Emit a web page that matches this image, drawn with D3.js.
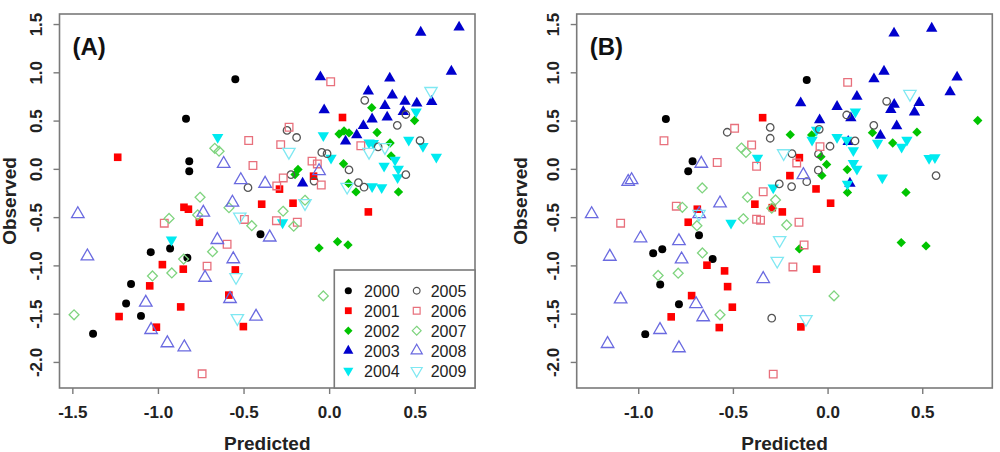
<!DOCTYPE html>
<html><head><meta charset="utf-8">
<script src="https://cdn.jsdelivr.net/npm/d3@7"></script>
<style>body{margin:0;background:#fff}svg{display:block}text{font-family:"Liberation Sans",Arial,sans-serif}</style>
</head><body><svg id="chart" width="1000" height="452"></svg>
<script>
const years = ["2000","2001","2002","2003","2004","2005","2006","2007","2008","2009"];
const xTicksA = [-1.5,-1.0,-0.5,0.0,0.5];
const xTicksB = [-1.0,-0.5,0.0,0.5];
const yTicks = [-2.0,-1.5,-1.0,-0.5,0.0,0.5,1.0,1.5];

// Panel A: [predicted, observed]
const a2000 = [[-0.548,0.928],[-0.836,0.520],[-0.817,0.079],[-0.817,-0.025],[-1.042,-0.863],[-0.929,-0.826],[-0.828,-0.922],[-1.157,-1.192],[-1.186,-1.395],[-1.099,-1.523],[-1.379,-1.709],[-0.401,-0.677]];
const a2001 = [[-1.235,0.120],[0.078,0.532],[0.229,-0.446],[-0.290,-0.210],[-0.091,-0.076],[-0.394,-0.366],[-0.211,-0.356],[-0.848,-0.398],[-0.822,-0.418],[-0.758,-0.553],[-0.974,-0.992],[-0.852,-1.039],[-0.548,-1.047],[-1.048,-1.212],[-0.586,-1.308],[-1.227,-1.530],[-0.867,-1.430],[-1.009,-1.640],[-0.501,-1.634]];
const a2002 = [[0.249,0.634],[0.499,0.501],[0.058,0.361],[0.087,0.392],[0.116,0.372],[0.280,0.377],[0.356,0.268],[0.362,0.134],[0.084,0.053],[0.113,-0.151],[0.157,-0.239],[0.405,-0.239],[-0.059,-0.819],[0.049,-0.754],[0.110,-0.788],[-0.182,-0.006],[-0.199,-0.058]];
const a2003 = [[0.759,1.466],[0.535,1.414],[0.714,1.010],[-0.051,0.951],[0.354,0.938],[0.229,0.804],[0.369,0.762],[0.443,0.698],[0.512,0.679],[0.599,0.696],[0.433,0.592],[0.326,0.654],[0.339,0.535],[0.251,0.515],[0.200,0.446],[0.161,0.351],[0.096,0.286],[-0.029,0.610],[-0.155,-0.149]];
const a2004 = [[-0.034,0.346],[0.011,0.113],[0.233,0.271],[0.258,0.265],[0.321,0.030],[0.385,0.092],[0.404,-0.001],[0.400,-0.089],[0.465,0.299],[0.508,0.592],[0.548,0.234],[0.626,0.123],[0.251,-0.182],[0.307,-0.193],[-0.651,0.327],[-0.921,-0.736],[-0.272,-0.557]];
const a2005 = [[0.208,0.710],[0.398,0.451],[0.448,0.563],[0.286,0.227],[0.531,0.292],[-0.043,0.170],[-0.012,0.157],[0.116,-0.011],[0.171,-0.143],[0.204,-0.190],[0.448,-0.060],[-0.246,0.398],[-0.190,0.325],[-0.474,-0.195],[-0.223,-0.060],[-0.088,-0.127]];
const a2006 = [[0.009,0.902],[-0.234,0.431],[-0.470,0.294],[-0.283,0.251],[0.185,0.239],[-0.445,0.035],[-0.100,0.080],[-0.069,0.051],[-0.268,-0.094],[-0.046,-0.167],[-0.306,-0.177],[-0.308,-0.537],[-0.186,-0.553],[-0.495,-0.524],[-0.963,-0.563],[-0.596,-0.781],[-0.713,-1.008],[-0.742,-2.123]];
const a2007 = [[-0.668,0.213],[-0.643,0.183],[-0.754,-0.294],[-0.585,-0.402],[-0.768,-0.477],[-0.935,-0.513],[-0.452,-0.589],[-0.269,-0.439],[-0.207,-0.594],[-0.141,-0.325],[-0.681,-0.858],[-1.032,-1.109],[-0.919,-1.078],[-0.850,-0.935],[-1.490,-1.512],[-0.034,-1.316]];
const a2008 = [[-0.616,0.053],[-0.516,-0.115],[-0.374,-0.153],[-0.565,-0.348],[-0.735,-0.453],[-0.347,-0.710],[-0.653,-0.736],[-0.560,-0.935],[-0.725,-1.127],[-1.468,-0.467],[-1.412,-0.905],[-1.071,-1.385],[-1.040,-1.668],[-0.945,-1.805],[-0.846,-1.847],[-0.579,-1.347],[-0.427,-1.530],[-0.059,-0.022]];
const a2009 = [[0.595,0.806],[-0.235,0.175],[-0.141,-0.356],[-0.522,-0.495],[-0.544,-1.122],[-0.536,-1.547],[0.233,0.175],[0.105,-0.187],[0.326,0.224]];

// Panel B: [predicted, observed]
const b2000 = [[-0.110,0.920],[-0.854,0.517],[-0.713,0.079],[-0.736,-0.025],[-0.679,-0.687],[-0.921,-0.874],[-0.873,-0.832],[-0.607,-0.933],[-0.884,-1.199],[-0.785,-1.402],[-0.963,-1.712]];
const b2001 = [[-0.343,0.530],[-0.149,0.116],[-0.199,-0.070],[-0.061,-0.208],[-0.384,-0.366],[-0.239,-0.446],[0.016,-0.356],[-0.058,-1.039],[-0.141,-1.637],[-0.292,-0.402],[-0.688,-0.418],[-0.736,-0.553],[-0.637,-0.998],[-0.544,-1.057],[-0.528,-1.220],[-0.718,-1.313],[-0.503,-1.433],[-0.826,-1.533],[-0.572,-1.644]];
const b2002 = [[0.793,0.501],[0.472,0.380],[0.237,0.375],[0.344,0.268],[-0.197,0.354],[-0.084,0.351],[-0.035,0.126],[-0.005,0.046],[0.104,-0.008],[-0.030,-0.068],[0.105,-0.244],[0.414,-0.244],[-0.149,-0.829],[0.389,-0.764],[0.520,-0.798]];
const b2003 = [[0.351,1.404],[0.550,1.455],[0.298,1.010],[0.245,0.931],[0.684,0.949],[0.647,0.796],[0.155,0.750],[-0.142,0.682],[0.050,0.644],[0.352,0.667],[0.334,0.613],[0.484,0.685],[0.459,0.587],[0.123,0.527],[-0.042,0.506],[0.365,0.444],[0.279,0.346],[0.109,0.282],[0.118,-0.151]];
const b2004 = [[-0.058,0.403],[-0.082,0.299],[0.050,0.327],[0.101,0.299],[0.136,0.190],[0.264,0.268],[0.391,0.227],[0.419,0.299],[0.136,0.058],[0.155,-0.001],[0.105,-0.156],[0.289,-0.092],[0.536,0.110],[0.567,0.118],[0.147,0.592],[-0.370,0.113],[-0.510,-0.560],[-0.287,-0.195]];
const b2005 = [[0.312,0.700],[0.101,0.558],[0.244,0.451],[0.145,0.289],[-0.044,0.410],[0.013,0.234],[-0.048,0.154],[-0.049,-0.014],[-0.110,-0.133],[0.573,-0.070],[-0.303,0.429],[-0.303,0.317],[-0.188,0.157],[-0.530,0.379],[-0.255,-0.156],[-0.190,-0.184],[-0.295,-1.547]];
const b2006 = [[0.106,0.896],[-0.864,0.291],[-0.491,0.420],[-0.583,0.066],[-0.401,0.247],[-0.375,0.027],[-0.163,0.061],[-0.040,0.230],[-0.340,-0.237],[-0.799,-0.387],[-1.093,-0.563],[-0.375,-0.522],[-0.354,-0.532],[-0.151,-0.553],[-0.124,-0.788],[-0.183,-1.016],[-0.287,-2.126]];
const b2007 = [[-0.455,0.216],[-0.431,0.170],[-0.662,-0.198],[-0.423,-0.294],[-0.275,-0.322],[-0.767,-0.398],[-0.690,-0.589],[-0.445,-0.517],[-0.216,-0.581],[-0.295,-0.408],[-0.661,-0.871],[-0.789,-1.081],[-0.895,-1.104],[-0.568,-1.512],[0.034,-1.316]];
const b2008 = [[-1.053,-0.133],[-1.035,-0.115],[-0.667,0.054],[-0.568,-0.356],[-0.678,-0.467],[-0.785,-0.748],[-0.771,-0.936],[-0.340,-1.140],[-0.128,-0.063],[-0.988,-0.718],[-1.246,-0.467],[-1.150,-0.909],[-1.093,-1.350],[-0.695,-1.399],[-0.657,-1.536],[-0.885,-1.668],[-1.162,-1.813],[-0.785,-1.857]];
const b2009 = [[0.435,0.775],[-0.232,0.161],[-0.253,-0.739],[-0.266,-0.953],[-0.114,-1.557],[-0.679,-0.467]];

const panelA = [a2000,a2001,a2002,a2003,a2004,a2005,a2006,a2007,a2008,a2009];
const panelB = [b2000,b2001,b2002,b2003,b2004,b2005,b2006,b2007,b2008,b2009];

// Styles per year
const styles = [
  {type:d3.symbolCircle,  size:50, fill:"#000000", stroke:null, rot:0},
  {type:d3.symbolSquare,  size:58, fill:"#ff0000", stroke:null, rot:0},
  {type:d3.symbolDiamond2,size:56, fill:"#00c400", stroke:null, rot:0},
  {type:d3.symbolTriangle,size:56, fill:"#0000cd", stroke:null, rot:0},
  {type:d3.symbolTriangle,size:56, fill:"#00eaf0", stroke:null, rot:180},
  {type:d3.symbolCircle,  size:44, fill:"none", stroke:"#555555", rot:0},
  {type:d3.symbolSquare,  size:58, fill:"none", stroke:"#e8707c", rot:0},
  {type:d3.symbolDiamond2,size:62, fill:"none", stroke:"#7fd47f", rot:0},
  {type:d3.symbolTriangle,size:68, fill:"none", stroke:"#6a6ae0", rot:0},
  {type:d3.symbolTriangle,size:66, fill:"none", stroke:"#7fe8f2", rot:180}
];

const svg = d3.select("#chart");
const yScale = d3.scaleLinear().domain([-2.27, 1.604]).range([388, 14]);

function drawPanel(opts) {
  const {left, right, xDomain, xTicks, data, label, obsX} = opts;
  const x = d3.scaleLinear().domain(xDomain).range([left, right]);
  const g = svg.append("g");

  data.forEach((pts, i) => {
    const st = styles[i];
    const sym = d3.symbol().type(st.type).size(st.size);
    g.append("g").selectAll("path").data(pts).join("path")
      .attr("d", sym())
      .attr("transform", d => `translate(${x(d[0])},${yScale(d[1])}) rotate(${st.rot})`)
      .attr("fill", st.fill)
      .attr("stroke", st.stroke || "none")
      .attr("stroke-width", st.stroke ? 1.3 : 0);
  });

  g.append("rect").attr("x", left).attr("y", 14).attr("width", right-left).attr("height", 374)
    .attr("fill", "none").attr("stroke", "#7a7a7a").attr("stroke-width", 1.6);

  const xa = g.append("g").attr("transform", "translate(0,388)")
    .call(d3.axisBottom(x).tickValues(xTicks).tickSize(6).tickSizeOuter(0).tickFormat(d => d.toFixed(1)));
  xa.select(".domain").remove();
  xa.selectAll(".tick line").attr("stroke", "#7a7a7a").attr("stroke-width", 1.4);
  xa.selectAll(".tick text").attr("y", 30).attr("dy", null)
    .attr("font-size", 17).attr("font-weight", "bold").attr("fill", "#222")
    .attr("font-family", "Liberation Sans, Arial, sans-serif");

  const ya = g.append("g").attr("transform", `translate(${left},0)`)
    .call(d3.axisLeft(yScale).tickValues(yTicks).tickSize(6).tickSizeOuter(0).tickFormat(d => d.toFixed(1)));
  ya.select(".domain").remove();
  ya.selectAll(".tick line").attr("stroke", "#7a7a7a").attr("stroke-width", 1.4);
  ya.selectAll(".tick text").attr("x", null).attr("dy", null)
    .attr("transform", "translate(-17.5,0) rotate(-90)")
    .attr("text-anchor", "middle")
    .attr("font-size", 17).attr("font-weight", "bold").attr("fill", "#222")
    .attr("font-family", "Liberation Sans, Arial, sans-serif");

  g.append("text").attr("x", (left+right)/2).attr("y", 449.5).attr("text-anchor", "middle")
    .attr("font-size", 19).attr("font-weight", "bold").attr("fill", "#222").text("Predicted");
  g.append("text").attr("transform", `translate(${obsX},201) rotate(-90)`).attr("text-anchor", "middle")
    .attr("font-size", 19).attr("font-weight", "bold").attr("fill", "#222").text("Observed");

  g.append("text").attr("x", left + 13).attr("y", 54.5)
    .attr("font-size", 24).attr("font-weight", "bold").attr("fill", "#111").text(label);
  return x;
}

drawPanel({left:59.5, right:475, xDomain:[-1.575, 0.852], xTicks:xTicksA, data:panelA, label:"(A)", obsX:16});
drawPanel({left:576.7, right:992.3, xDomain:[-1.325, 0.87], xTicks:xTicksB, data:panelB, label:"(B)", obsX:526.8});

// legend (panel A)
const leg = svg.append("g");
leg.append("rect").attr("x", 334.3).attr("y", 270).attr("width", 475-334.3).attr("height", 118)
  .attr("fill", "#fff").attr("stroke", "#7a7a7a").attr("stroke-width", 1.6);
years.forEach((yr, i) => {
  const col = i < 5 ? 0 : 1, row = i % 5;
  const sx = col === 0 ? 348.3 : 416.7;
  const tx = col === 0 ? 364 : 430.7;
  const cy = 290.7 + row * 20;
  const st = styles[i];
  leg.append("path").attr("d", d3.symbol().type(st.type).size(st.size * 0.8)())
    .attr("transform", `translate(${sx},${cy}) rotate(${st.rot})`)
    .attr("fill", st.fill).attr("stroke", st.stroke || "none").attr("stroke-width", st.stroke ? 1.2 : 0);
  leg.append("text").attr("x", tx).attr("y", cy + 6).attr("font-size", 16).attr("fill", "#222").text(yr);
});
</script></body></html>
